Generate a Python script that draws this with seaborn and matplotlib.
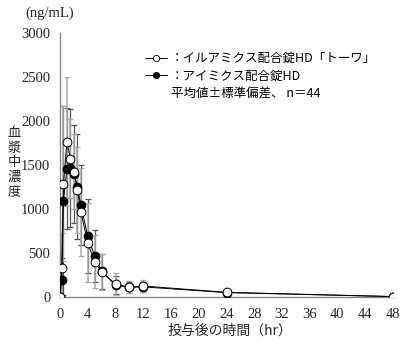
import numpy as np
import pandas as pd
import matplotlib
matplotlib.use("Agg")
import matplotlib.pyplot as plt
import seaborn as sns
from matplotlib.lines import Line2D

# ---- data ----
time_hr = [0, 0.25, 0.5, 1, 1.5, 2, 2.5, 3, 4, 5, 6, 8, 10, 12, 24, 48]
toowa_mean = [0, 330, 1285, 1765, 1570, 1425, 1220, 970, 615, 400, 285, 148, 110, 125, 53, 5]
toowa_sd = [0, 400, 880, 735, 450, 425, 490, 500, 450, 300, 200, 120, 70, 70, 40, 10]
ref_mean = [0, 195, 1095, 1460, 1470, 1400, 1255, 1045, 690, 465, 290, 135, 110, 115, 50, 5]
ref_sd = [0, 250, 1075, 690, 670, 560, 600, 455, 420, 300, 200, 100, 60, 60, 30, 10]

x_ticks = list(range(0, 49, 4))
y_ticks = list(range(0, 3001, 500))

label_toowa = "：イルアミクス配合錠HD「トーワ」"
label_ref = "：アイミクス配合錠HD"
note = "平均値±標準偏差、 n＝44"
y_title = "血漿中濃度"

sns.set_theme(style="white")
SERIF = ["Liberation Serif", "DejaVu Serif"]
JP = ["Noto Sans CJK JP", "DejaVu Sans"]
plt.rcParams["font.family"] = SERIF

df = pd.DataFrame({
    "time": time_hr * 2,
    "conc": ref_mean + toowa_mean,
    "drug": ["ref"] * len(time_hr) + ["toowa"] * len(time_hr),
})

fig = plt.figure(figsize=(4.0, 3.46), dpi=100)
ax = fig.add_axes([0.15, 0.1416, 0.8325, 0.763])

# error bars
ax.errorbar(time_hr, ref_mean, yerr=ref_sd, fmt="none", ecolor="#555555",
            elinewidth=0.9, capsize=2.5, capthick=0.9, zorder=1)
ax.errorbar(time_hr, toowa_mean, yerr=toowa_sd, fmt="none", ecolor="#aaaaaa",
            elinewidth=1.1, capsize=2.5, capthick=0.9, zorder=1)

# lines + markers
sns.lineplot(data=df[df.drug == "ref"], x="time", y="conc", ax=ax,
             color="black", lw=0.7, marker="o", markersize=6.3,
             markerfacecolor="black", markeredgecolor="black",
             markeredgewidth=0.7, zorder=3, errorbar=None)
sns.lineplot(data=df[df.drug == "toowa"], x="time", y="conc", ax=ax,
             color="black", lw=0.7, marker="o", markersize=6.3,
             markerfacecolor="white", markeredgecolor="black",
             markeredgewidth=0.7, zorder=4, errorbar=None)

ax.set_xlim(0, 48)
ax.set_ylim(0, 3000)
ax.set_xticks(x_ticks)
ax.set_yticks(y_ticks)
ax.set_xticklabels([str(v) for v in x_ticks], family=SERIF, fontsize=10.5)
ax.set_yticklabels([str(v) for v in y_ticks], family=SERIF, fontsize=10.5)
ax.set_xlabel("")
ax.set_ylabel("")
for s in ["top", "right"]:
    ax.spines[s].set_visible(False)
for s in ["left", "bottom"]:
    ax.spines[s].set_color("#888888")
    ax.spines[s].set_linewidth(1.0)
ax.tick_params(axis="both", direction="out", length=4, width=0.8,
               color="#888888", pad=3)
ax.tick_params(axis="x", pad=4)
ax.margins(0)

# legend
handles = [
    Line2D([], [], color="black", lw=0.7, marker="o", markersize=4.5,
           markerfacecolor="white", markeredgewidth=0.6),
    Line2D([], [], color="black", lw=0.7, marker="o", markersize=4.5,
           markerfacecolor="black", markeredgewidth=0.6),
    Line2D([], [], color="none"),
]
leg = ax.legend(handles, [label_toowa, label_ref, note], frameon=False,
                loc="upper left", bbox_to_anchor=(0.22, 0.97),
                handlelength=1.8, handletextpad=0.3, labelspacing=0.35,
                prop={"family": JP, "size": 9})
for t in leg.get_texts():
    t.set_color("black")

# axis titles
fig.text(0.125, 0.962, "(ng/mL)", ha="center", va="center", fontsize=10.5,
         family=SERIF)
n = len(y_title)
for i, ch in enumerate(y_title):
    fig.text(0.036, 0.53 + ((n - 1) / 2 - i) * 0.042, ch, ha="center",
             va="center", fontsize=9.5, family=JP)
fig.text(0.575, 0.045, "投与後の時間（hr）", ha="center", va="center",
         fontsize=10, family=JP)

fig.savefig("out.png", dpi=100, facecolor="white")
